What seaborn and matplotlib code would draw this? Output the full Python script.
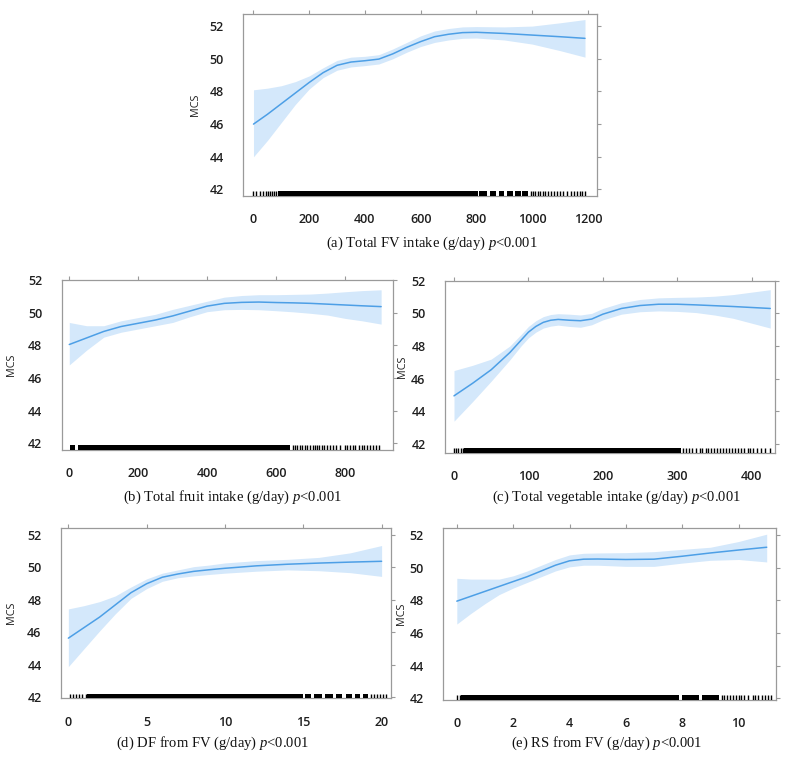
import matplotlib
matplotlib.use("Agg")
import matplotlib.pyplot as plt
import seaborn as sns

sns.set_style("white")
plt.rcParams["font.family"] = ["Open Sans", "DejaVu Sans"]
plt.rcParams["mathtext.fontset"] = "custom"
plt.rcParams["mathtext.rm"] = "Liberation Serif"
plt.rcParams["mathtext.it"] = "Liberation Serif:italic"

# ---------------- data ----------------
# (a) Total FV intake
x_a = [0, 50, 100, 150, 200, 250, 300, 350, 400, 450, 500, 550, 600, 650, 700, 750, 800, 900, 1000, 1100, 1190]
fit_a = [46.0, 46.6, 47.25, 47.9, 48.55, 49.15, 49.6, 49.8, 49.88, 49.98, 50.3, 50.7, 51.05, 51.35, 51.5, 51.6, 51.62, 51.55, 51.45, 51.35, 51.25]
hi_a = [48.1, 48.2, 48.35, 48.6, 48.95, 49.45, 49.9, 50.1, 50.15, 50.25, 50.6, 51.0, 51.4, 51.7, 51.85, 51.95, 51.97, 51.95, 52.0, 52.2, 52.4]
lo_a = [44.0, 45.0, 46.1, 47.2, 48.15, 48.85, 49.3, 49.5, 49.58, 49.68, 50.0, 50.4, 50.75, 51.0, 51.15, 51.25, 51.27, 51.15, 50.9, 50.5, 50.1]
rug_a = [0, 10, 22, 35, 45, 53, 60, 67, 75, 82, 995, 1003, 1012, 1020, 1030, 1040, 1048, 1058, 1068, 1080,
         1090, 1100, 1110, 1125, 1140, 1150, 1160, 1172, 1180, 1190]
dense_a = [(88, 805), (810, 840), (850, 870), (880, 900), (910, 930), (940, 960), (965, 985)]

# (b) Total fruit intake
x_b = [0, 50, 100, 150, 200, 250, 300, 350, 400, 450, 500, 550, 600, 650, 700, 750, 800, 850, 905]
fit_b = [48.05, 48.45, 48.85, 49.15, 49.35, 49.55, 49.8, 50.1, 50.4, 50.57, 50.63, 50.65, 50.62, 50.6, 50.57, 50.52, 50.47, 50.42, 50.37]
hi_b = [49.4, 49.2, 49.2, 49.5, 49.7, 49.9, 50.2, 50.45, 50.7, 50.95, 51.05, 51.1, 51.1, 51.12, 51.14, 51.2, 51.28, 51.35, 51.4]
lo_b = [46.8, 47.7, 48.5, 48.8, 49.0, 49.2, 49.4, 49.75, 50.06, 50.18, 50.2, 50.18, 50.12, 50.05, 49.96, 49.85, 49.65, 49.5, 49.3]
rug_b = [648, 655, 662, 670, 676, 683, 690, 700, 706, 712, 718, 725, 732, 740, 748, 757, 765, 775, 786, 800,
         806, 815, 822, 830, 840, 850, 856, 865, 872, 880, 890, 900]
dense_b = [(2, 18), (25, 640)]

# (c) Total vegetable intake
x_c = [0, 25, 50, 75, 90, 100, 110, 120, 130, 140, 155, 170, 185, 200, 225, 250, 275, 300, 325, 350, 375, 400, 425]
fit_c = [44.95, 45.72, 46.55, 47.6, 48.35, 48.85, 49.2, 49.45, 49.58, 49.63, 49.58, 49.55, 49.65, 49.95, 50.3, 50.48, 50.56, 50.56, 50.52, 50.47, 50.42, 50.36, 50.3]
hi_c = [46.5, 46.82, 47.2, 48.0, 48.7, 49.2, 49.55, 49.8, 49.93, 49.98, 49.95, 49.9, 50.0, 50.3, 50.65, 50.85, 50.95, 50.98, 51.0, 51.05, 51.15, 51.3, 51.45]
lo_c = [43.4, 44.6, 45.85, 47.15, 48.0, 48.5, 48.85, 49.1, 49.22, 49.28, 49.2, 49.15, 49.3, 49.6, 49.95, 50.1, 50.15, 50.12, 50.05, 49.9, 49.7, 49.4, 49.1]
rug_c = [0, 3, 6, 9, 12, 308, 312, 316, 320, 325, 330, 333, 338, 342, 346, 350, 353, 357, 361, 365, 370,
         374, 378, 382, 386, 390, 395, 398, 402, 407, 412, 418, 425]
dense_c = [(14, 305)]

# (d) DF from FV
x_d = [0, 1, 2, 3, 4, 5, 6, 7, 8, 9, 10, 12, 14, 16, 18, 20]
fit_d = [45.65, 46.3, 46.95, 47.7, 48.45, 49.0, 49.4, 49.6, 49.76, 49.86, 49.95, 50.1, 50.2, 50.27, 50.33, 50.38]
hi_d = [47.45, 47.65, 47.9, 48.25, 48.8, 49.3, 49.65, 49.85, 50.05, 50.15, 50.28, 50.42, 50.5, 50.62, 50.9, 51.35]
lo_d = [43.9, 45.0, 46.1, 47.15, 48.1, 48.7, 49.15, 49.37, 49.48, 49.57, 49.65, 49.77, 49.85, 49.8, 49.68, 49.45]
rug_d = [0.1, 0.3, 0.5, 0.7, 0.9, 1.1, 19.3, 19.5, 19.7, 19.9, 20.1, 20.3]
dense_d = [(1.2, 15.0), (15.1, 15.5), (15.7, 16.2), (16.4, 16.9), (17.1, 17.5), (17.7, 18.1), (18.3, 18.6), (18.8, 19.1)]

# (e) RS from FV
x_e = [0, 0.5, 1, 1.5, 2, 2.5, 3, 3.5, 4, 4.5, 5, 6, 7, 8, 9, 10, 11]
fit_e = [47.95, 48.25, 48.55, 48.85, 49.15, 49.45, 49.8, 50.15, 50.42, 50.52, 50.53, 50.5, 50.52, 50.7, 50.9, 51.08, 51.25]
hi_e = [49.35, 49.3, 49.3, 49.3, 49.5, 49.8, 50.15, 50.5, 50.78, 50.88, 50.9, 50.92, 50.98, 51.12, 51.25, 51.6, 52.05]
lo_e = [46.55, 47.2, 47.8, 48.35, 48.75, 49.1, 49.45, 49.8, 50.05, 50.15, 50.15, 50.08, 50.08, 50.28, 50.45, 50.5, 50.35]
rug_e = [0.0, 0.1, 9.4, 9.5, 9.6, 9.7, 9.8, 9.9, 10.0, 10.1, 10.2, 10.35, 10.5, 10.6, 10.7, 10.85, 10.95, 11.05, 11.15]
dense_e = [(0.15, 7.9), (8.0, 8.6), (8.7, 9.3)]

yticks = [42, 44, 46, 48, 50, 52]
xticks_a = [0, 200, 400, 600, 800, 1000, 1200]
xticks_b = [0, 200, 400, 600, 800]
xticks_c = [0, 100, 200, 300, 400]
xticks_d = [0, 5, 10, 15, 20]
xticks_e = [0, 2, 4, 6, 8, 10]

captions = [
    r"(a) Total FV intake (g/day) $p$<0.001",
    r"(b) Total fruit intake (g/day) $p$<0.001",
    r"(c) Total vegetable intake (g/day) $p$<0.001",
    r"(d) DF from FV (g/day) $p$<0.001",
    r"(e) RS from FV (g/day) $p$<0.001",
]

# ---------------- layout / style ----------------
W, H = 788, 759
LINE = "#4d9fe6"
BAND = "#d4e8fb"
SPINE = "#9a9a9a"

fig = plt.figure(figsize=(W / 100, H / 100), dpi=100)
fig.patch.set_facecolor("white")

panels = [
    dict(box=(243.3, 14, 596.7, 196), xlim=(-36.6, 1232), ylim=(41.6, 52.74),
         x=x_a, fit=fit_a, lo=lo_a, hi=hi_a, rug=rug_a, dense=dense_a, xticks=xticks_a,
         cap=(432, 243), ylx=-0.120),
    dict(box=(61.7, 280, 392.5, 450), xlim=(-22, 938), ylim=(41.59, 52.0),
         x=x_b, fit=fit_b, lo=lo_b, hi=hi_b, rug=rug_b, dense=dense_b, xticks=xticks_b,
         cap=(232, 497), ylx=-0.134),
    dict(box=(445, 280.7, 775, 452.7), xlim=(-12.1, 431.4), ylim=(41.47, 51.96),
         x=x_c, fit=fit_c, lo=lo_c, hi=hi_c, rug=rug_c, dense=dense_c, xticks=xticks_c,
         cap=(617, 497), ylx=-0.112),
    dict(box=(61, 528.3, 391, 698.3), xlim=(-0.47, 20.6), ylim=(41.95, 52.41),
         x=x_d, fit=fit_d, lo=lo_d, hi=hi_d, rug=rug_d, dense=dense_d, xticks=xticks_d,
         cap=(213, 743), ylx=-0.133),
    dict(box=(443.3, 528.3, 776, 700), xlim=(-0.48, 11.33), ylim=(41.9, 52.41),
         x=x_e, fit=fit_e, lo=lo_e, hi=hi_e, rug=rug_e, dense=dense_e, xticks=xticks_e,
         cap=(607, 743), ylx=-0.110),
]

RUG_H = 0.028

for p, cap in zip(panels, captions):
    l, t, r, b = p["box"]
    ax = fig.add_axes([l / W, (H - b) / H, (r - l) / W, (b - t) / H])
    ax.fill_between(p["x"], p["lo"], p["hi"], color=BAND, lw=0, zorder=1)
    sns.lineplot(x=p["x"], y=p["fit"], ax=ax, color=LINE, lw=1.1, zorder=3)
    sns.rugplot(x=p["rug"], ax=ax, height=RUG_H, color="black", lw=0.7, zorder=4)
    ax.broken_barh([(s, e - s) for s, e in p["dense"]], (0, RUG_H),
                   transform=ax.get_xaxis_transform(), color="black", lw=0, zorder=4)
    ax.set_xlim(*p["xlim"])
    ax.set_ylim(*p["ylim"])
    ax.set_xticks(p["xticks"])
    ax.set_yticks(yticks)
    for s in ax.spines.values():
        s.set_color(SPINE)
        s.set_linewidth(0.9)
        s.set_visible(True)
    ax.tick_params(axis="both", direction="out", length=3, width=0.8, color=SPINE,
                   labelsize=9, labelcolor="#1e1e1e", top=True, right=True,
                   labeltop=False, labelright=False)
    ax.tick_params(axis="y", pad=11)
    ax.tick_params(axis="x", pad=9.5)
    for lab in ax.get_xticklabels() + ax.get_yticklabels():
        lab.set_fontweight("semibold")
    ax.set_ylabel("MCS", fontsize=7.8, color="#222222")
    ax.yaxis.set_label_coords(p["ylx"], 0.5)
    ax.set_xlabel("")
    cx, cy = p["cap"]
    fig.text(cx / W, 1 - cy / H, cap, ha="center", va="center",
             family="Liberation Serif", fontsize=10.5, color="#111111")

fig.savefig("out.png", dpi=100, facecolor="white")
